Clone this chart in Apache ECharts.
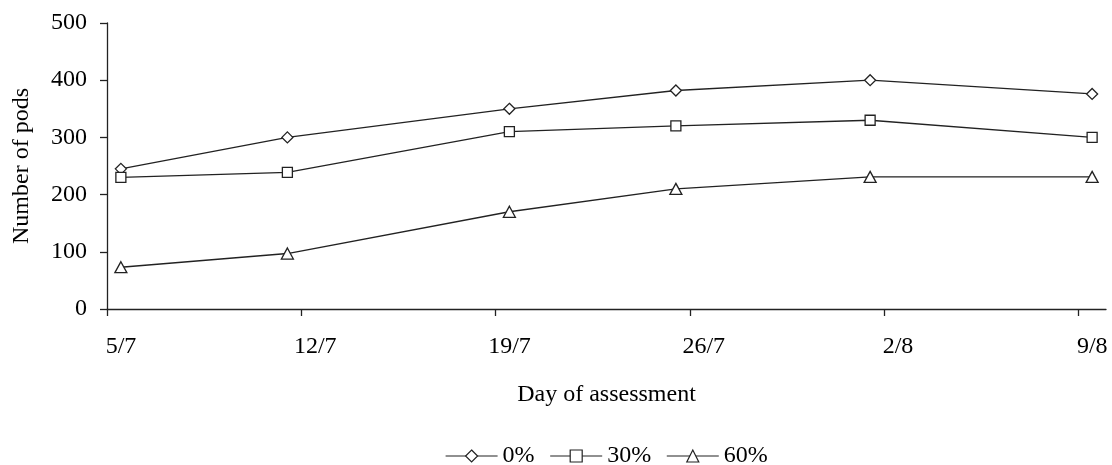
<!DOCTYPE html>
<html>
<head>
<meta charset="utf-8">
<script src="https://cdn.jsdelivr.net/npm/echarts@6/dist/echarts.min.js"></script>
<style>
  html, body { margin: 0; padding: 0; background: #fff; }
  #chart { width: 1112px; height: 465px; }
</style>
</head>
<body>
<div id="chart"></div>
<script>
// Assessment dates (day/month) and pod counts per shading level
const assessmentDates = ['5/7', '11/7', '19/7', '25/7', '1/8', '9/8'];
const tickLabels = ['5/7', '12/7', '19/7', '26/7', '2/8', '9/8'];
const seriesNames = ['0%', '30%', '60%'];
const pods0 = [245, 300, 350, 382, 400, 376];
const pods30 = [230, 239, 310, 320, 330, 300];
const pods60 = [73, 97, 170, 210, 231, 231];
const yTicks = [0, 100, 200, 300, 400, 500];

const FONT = '"Liberation Serif", "Times New Roman", serif';

// Days since the first assessment date
function dayIndex(s) {
  const [d, m] = s.split('/').map(Number);
  const [d0, m0] = tickLabels[0].split('/').map(Number);
  return Math.round((Date.UTC(2000, m - 1, d) - Date.UTC(2000, m0 - 1, d0)) / 86400000);
}
const tickDays = tickLabels.map(dayIndex);
const lastDay = dayIndex(assessmentDates[assessmentDates.length - 1]) + 1;

// Each observation sits in the middle of its day
function toPoints(values) {
  return assessmentDates.map((s, i) => [dayIndex(s) + 0.5, values[i]]);
}

const symbols = ['diamond', 'rect', 'triangle'];
const symbolSizes = [[11, 11], [10, 10], [12, 11]];
const allValues = [pods0, pods30, pods60];

const chart = echarts.init(document.getElementById('chart'), null, { renderer: 'canvas' });

chart.setOption({
  animation: false,
  backgroundColor: '#fff',
  textStyle: { fontFamily: FONT, color: '#000' },
  grid: { left: 107, right: 6, top: 23, bottom: 156, containLabel: false },
  legend: {
    data: seriesNames,
    left: 440,
    top: 439,
    itemWidth: 52,
    itemHeight: 15,
    itemGap: 15,
    textStyle: { fontFamily: FONT, fontSize: 24, color: '#000' },
    itemStyle: { color: '#fff', borderColor: '#222', borderWidth: 1.2 },
    lineStyle: { color: '#222', width: 1.2 }
  },
  xAxis: {
    type: 'value',
    min: 0,
    max: lastDay,
    name: 'Day of assessment',
    nameLocation: 'middle',
    nameGap: 74,
    nameTextStyle: { fontFamily: FONT, fontSize: 24, color: '#000' },
    axisLine: { show: true, onZero: false, lineStyle: { color: '#222', width: 1.3 } },
    axisTick: { show: true, customValues: tickDays, length: 7, lineStyle: { color: '#222', width: 1.3 } },
    axisLabel: {
      customValues: tickDays,
      formatter: v => tickLabels[tickDays.indexOf(v)] || '',
      fontFamily: FONT, fontSize: 24, color: '#000',
      margin: 26,
      padding: [0, 0, 0, 28]
    },
    splitLine: { show: false }
  },
  yAxis: {
    type: 'value',
    min: yTicks[0],
    max: yTicks[yTicks.length - 1],
    interval: yTicks[1] - yTicks[0],
    name: 'Number of pods',
    nameLocation: 'middle',
    nameGap: 73,
    nameRotate: 90,
    nameTextStyle: { fontFamily: FONT, fontSize: 24, color: '#000' },
    axisLine: { show: true, lineStyle: { color: '#222', width: 1.3 } },
    axisTick: { show: true, length: 7, lineStyle: { color: '#222', width: 1.3 } },
    axisLabel: { fontFamily: FONT, fontSize: 24, color: '#000', margin: 20 },
    splitLine: { show: false }
  },
  series: seriesNames.map((name, k) => ({
    name,
    type: 'line',
    data: toPoints(allValues[k]),
    symbol: symbols[k],
    symbolSize: symbolSizes[k],
    showAllSymbol: true,
    lineStyle: { color: '#222', width: 1.3 },
    itemStyle: { color: '#fff', borderColor: '#222', borderWidth: 1.3 },
    emphasis: { disabled: true }
  }))
});
</script>
</body>
</html>
